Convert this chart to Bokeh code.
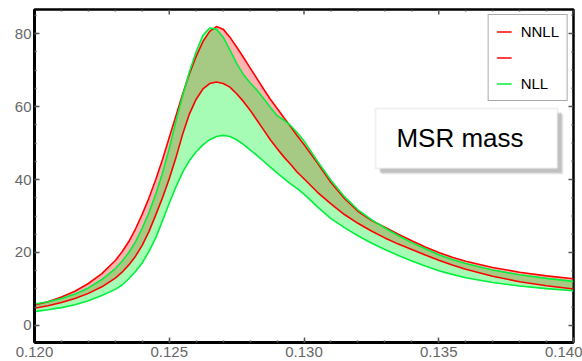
import numpy as np
from bokeh.plotting import figure
from bokeh.models import (Range1d, SingleIntervalTicker, PrintfTickFormatter,
                          Legend, LegendItem, BoxAnnotation, Label, ColumnDataSource)
from bokeh.embed import file_html
from bokeh.resources import INLINE

# ---- data ----
x_vals = [0.1200, 0.1205, 0.1210, 0.1215, 0.1220, 0.1225, 0.1230, 0.12325, 0.1235, 0.12375,
          0.1240, 0.12425, 0.1245, 0.12475, 0.1250, 0.12525, 0.1255, 0.12575, 0.1260, 0.12625,
          0.1265, 0.12675, 0.1270, 0.12725, 0.1275, 0.12775, 0.1280, 0.12825, 0.1285, 0.12875,
          0.1290, 0.12925, 0.1295, 0.12975, 0.1300, 0.1305, 0.1310, 0.1315, 0.1320, 0.1325,
          0.1330, 0.1335, 0.1340, 0.1345, 0.1350, 0.1355, 0.1360, 0.1370, 0.1380, 0.1390,
          0.1400]
nnll_hi = [5.6, 6.5, 7.8, 9.4, 11.5, 14.2, 17.8, 20.2, 23.0, 26.5,
           30.5, 35.0, 40.0, 45.5, 51.5, 57.5, 63.5, 69.0, 73.8, 77.8,
           80.6, 81.9, 81.2, 79.0, 76.3, 73.5, 70.6, 67.7, 64.8, 62.0,
           59.5, 57.0, 54.5, 52.0, 49.6, 44.5, 39.2, 34.8, 31.3, 28.8,
           26.9, 25.0, 23.2, 21.5, 20.0, 18.7, 17.6, 15.9, 14.6, 13.6,
           12.8]
nnll_lo = [4.7, 5.4, 6.3, 7.4, 8.8, 10.6, 13.0, 14.6, 16.6, 19.0,
           22.0, 25.8, 30.3, 35.0, 40.2, 46.0, 52.5, 58.0, 62.0, 64.8,
           66.3, 66.7, 66.3, 65.3, 63.5, 61.4, 59.0, 56.3, 53.6, 50.9,
           48.5, 46.2, 44.2, 42.0, 40.2, 36.5, 33.3, 30.4, 28.0, 25.9,
           24.0, 22.3, 20.8, 19.3, 17.9, 16.6, 15.4, 13.5, 12.0, 10.9,
           10.0]
nll_hi = [5.9, 6.5, 7.4, 8.6, 10.3, 12.6, 15.6, 17.6, 20.0, 23.0,
          26.7, 31.0, 36.0, 41.8, 48.5, 56.0, 63.0, 69.5, 75.0, 79.5,
          81.5, 81.2, 79.0, 75.5, 71.8, 68.8, 66.5, 64.5, 62.2, 59.8,
          57.5, 56.3, 54.8, 52.8, 50.6, 45.0, 39.8, 35.3, 31.7, 29.0,
          26.7, 24.6, 22.7, 21.0, 19.4, 18.1, 17.0, 15.2, 13.9, 12.9,
          12.1]
nll_lo = [3.8, 4.3, 4.9, 5.7, 6.8, 8.2, 9.9, 11.1, 12.8, 14.8,
          17.2, 20.3, 24.0, 28.7, 33.5, 38.0, 42.0, 45.2, 47.6, 49.5,
          50.9, 51.8, 52.1, 51.8, 50.9, 49.6, 48.1, 46.6, 45.0, 43.4,
          41.8, 40.3, 38.8, 37.5, 36.0, 32.5, 29.3, 26.8, 24.6, 22.6,
          20.8, 19.2, 17.7, 16.3, 15.0, 14.0, 13.1, 11.8, 10.8, 10.1,
          9.5]
legend_labels = ["NNLL", " ", "NLL"]
box_text = "MSR mass"

XMIN, XMAX = 0.120, 0.140
YMIN, YMAX = -4.66, 86.58
X_MAJOR, X_MINOR = 0.005, 0.001
Y_MAJOR, Y_MINOR = 20, 5

RED = "#ff0000"
GREEN = "#00f03c"
TICK_GREY = "#666666"
TICK_COL = "#555555"
FONT = "Liberation Sans"

src = ColumnDataSource(dict(x=x_vals, nnll_hi=nnll_hi, nnll_lo=nnll_lo,
                            nll_hi=nll_hi, nll_lo=nll_lo))

p = figure(width=582, height=361, output_backend="svg", toolbar_location=None,
           x_range=Range1d(XMIN, XMAX), y_range=Range1d(YMIN, YMAX),
           min_border_left=34, min_border_right=9, min_border_top=9, min_border_bottom=19)
p.background_fill_color = "white"
p.border_fill_color = "white"
p.xgrid.visible = False
p.ygrid.visible = False
p.outline_line_color = "black"
p.outline_line_width = 2.5

p.xaxis.ticker = SingleIntervalTicker(interval=X_MAJOR, num_minor_ticks=5)
p.xaxis.formatter = PrintfTickFormatter(format="%.3f")
p.yaxis.ticker = SingleIntervalTicker(interval=Y_MAJOR, num_minor_ticks=4)
for ax in (p.xaxis[0], p.yaxis[0]):
    ax.axis_line_color = "black"
    ax.axis_line_width = 3
    ax.major_tick_in = 5
    ax.major_tick_out = 0
    ax.minor_tick_in = 2
    ax.minor_tick_out = 0
    ax.major_tick_line_color = TICK_COL
    ax.minor_tick_line_color = TICK_COL
    ax.major_tick_line_width = 1.5
    ax.minor_tick_line_width = 1.5
    ax.major_label_text_font = FONT
    ax.major_label_text_font_size = "15px"
    ax.major_label_text_color = TICK_GREY
p.xaxis[0].major_label_standoff = 4
p.yaxis[0].major_label_standoff = 3

# frame ticks on the top and right edges (pointing inward)
FX0, FX1, FY0, FY1 = 34, 573, 9, 342
ppx = (FX1 - FX0) / (XMAX - XMIN)
ppy = (FY1 - FY0) / (YMAX - YMIN)
xt_major = np.arange(XMIN, XMAX + 1e-9, X_MAJOR)
xt_minor = np.array([v for v in np.arange(XMIN, XMAX + 1e-9, X_MINOR)
                     if abs(v / X_MAJOR - round(v / X_MAJOR)) > 1e-6])
yt_major = np.arange(0, YMAX, Y_MAJOR)
yt_minor = np.array([v for v in np.arange(0, YMAX, Y_MINOR) if v % Y_MAJOR != 0])
for ticks, ln in ((xt_major, 5), (xt_minor, 2)):
    p.segment(x0=ticks, x1=ticks, y0=[YMAX] * len(ticks), y1=[YMAX - ln / ppy] * len(ticks),
              line_color=TICK_COL, line_width=1.5)
for ticks, ln in ((yt_major, 5), (yt_minor, 2)):
    p.segment(x0=[XMAX] * len(ticks), x1=[XMAX - ln / ppx] * len(ticks), y0=ticks, y1=ticks,
              line_color=TICK_COL, line_width=1.5)

# bands
p.varea(x="x", y1="nnll_lo", y2="nnll_hi", source=src, fill_color=RED, fill_alpha=0.3)
p.varea(x="x", y1="nll_lo", y2="nll_hi", source=src, fill_color="#00f32c", fill_alpha=0.35)
r_hi = p.line(x="x", y="nnll_hi", source=src, line_color=RED, line_width=1.6)
r_lo = p.line(x="x", y="nnll_lo", source=src, line_color=RED, line_width=1.6)
g_hi = p.line(x="x", y="nll_hi", source=src, line_color=GREEN, line_width=1.6)
g_lo = p.line(x="x", y="nll_lo", source=src, line_color=GREEN, line_width=1.6)

legend = Legend(items=[LegendItem(label=legend_labels[0], renderers=[r_hi]),
                       LegendItem(label=legend_labels[1], renderers=[r_lo]),
                       LegendItem(label=legend_labels[2], renderers=[g_hi])],
                location="top_right")
legend.margin = 5
legend.padding = 8
legend.spacing = 9
legend.glyph_width = 15
legend.glyph_height = 17
legend.label_height = 17
legend.label_standoff = 9
legend.label_text_font = FONT
legend.label_text_font_size = "15px"
legend.label_text_color = "black"
legend.border_line_color = "#555555"
legend.border_line_width = 1
legend.background_fill_color = "white"
legend.background_fill_alpha = 1
p.add_layout(legend)

def dx(px):
    return XMIN + (px - FX0) / ppx
def dy(py):
    return YMAX - (py - FY0) / ppy

bl, br, bt, bb = 375, 557, 108, 168
for off, alpha in [(6, 0.12), (5, 0.18), (4, 0.25)]:
    p.add_layout(BoxAnnotation(left=dx(bl + off), right=dx(br + off), top=dy(bt + off), bottom=dy(bb + off),
                               fill_color="#777777", fill_alpha=alpha, line_alpha=0))
p.add_layout(BoxAnnotation(left=dx(bl), right=dx(br), top=dy(bt), bottom=dy(bb),
                           fill_color="white", fill_alpha=1, line_color="#cccccc", line_width=2))
p.add_layout(Label(x=dx(459.5), y=dy(137), text=box_text, text_align="center", text_baseline="middle",
                   text_font=FONT, text_font_size="26px", text_color="black"))

open("out.html", "w").write(file_html(p, INLINE))
